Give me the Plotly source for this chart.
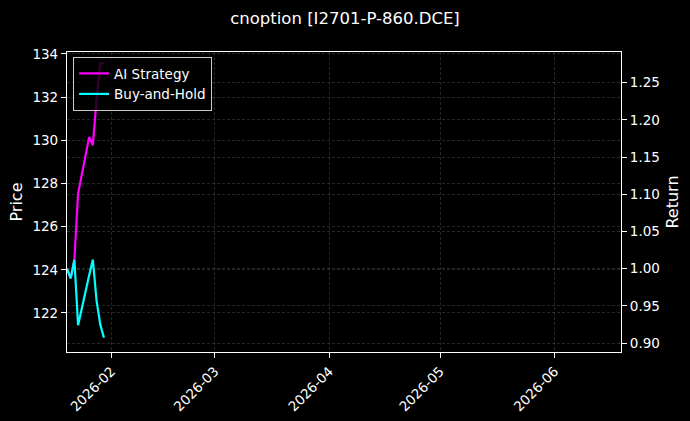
import plotly.graph_objects as go

# daily returns
dates = ["2026-01-20", "2026-01-21", "2026-01-22", "2026-01-23", "2026-01-26",
         "2026-01-27", "2026-01-28", "2026-01-29", "2026-01-30"]
ai_strategy = [1.000, 0.987, 1.012, 1.101, 1.177, 1.166, 1.227, 1.276, 1.276]
buy_and_hold = [1.000, 0.987, 1.012, 0.924, 0.991, 1.012, 0.957, 0.925, 0.907]

price_range = [120.19, 134.09]
return_range = [0.8879, 1.2913]
x_range = ["2026-01-20", "2026-06-19"]

FONT = "DejaVu Sans"
grid = dict(showgrid=True, gridcolor="rgba(110,110,110,0.35)", gridwidth=0.7, griddash="3px,2px")

fig = go.Figure()

# empty trace so the Price axis exists on the left
fig.add_trace(go.Scatter(x=[], y=[], yaxis="y", showlegend=False, hoverinfo="skip"))

fig.add_trace(go.Scatter(x=dates, y=ai_strategy, yaxis="y2", mode="lines",
                         name="AI Strategy", line=dict(color="#ff00ff", width=2.2)))
fig.add_trace(go.Scatter(x=dates, y=buy_and_hold, yaxis="y2", mode="lines",
                         name="Buy-and-Hold", line=dict(color="#00ffff", width=2.2)))

fig.update_layout(
    width=690, height=421,
    margin=dict(l=67, r=69, t=52, b=69),
    paper_bgcolor="#000000", plot_bgcolor="#000000",
    font=dict(family=FONT, size=13.5, color="#ffffff"),
    title=dict(text="cnoption [I2701-P-860.DCE]", x=0.5, xanchor="center",
               yref="container", y=0.957, yanchor="middle",
               font=dict(size=16.5, color="#ffffff")),
    xaxis=dict(type="date", range=x_range, dtick="M1", tick0="2026-02-01",
               tickformat="%Y-%m", tickangle=-45, ticks="outside", ticklen=5,
               tickcolor="#ffffff", showline=True, linecolor="#ffffff", linewidth=1.2,
               mirror=True, zeroline=False, automargin=False, **grid),
    yaxis=dict(title=dict(text="Price", standoff=5), range=price_range, dtick=2,
               ticks="outside", ticklen=5, tickcolor="#ffffff", showline=True,
               linecolor="#ffffff", linewidth=1.2, zeroline=False, automargin=False, **grid),
    yaxis2=dict(title=dict(text="Return", standoff=7), range=return_range, dtick=0.05,
                tickformat=".2f", overlaying="y", side="right", ticks="outside",
                ticklen=5, tickcolor="#ffffff", showline=True, linecolor="#ffffff",
                linewidth=1.2, zeroline=False, automargin=False, **grid),
    legend=dict(x=0.011, y=0.983, xanchor="left", yanchor="top",
                bgcolor="rgba(0,0,0,0.8)", bordercolor="#cccccc", borderwidth=1,
                font=dict(size=13.5, color="#ffffff"), tracegroupgap=0, itemwidth=30),
)

# drop the default 8px page margin so the figure fills the window
fig.write_html("out.html", config={"displayModeBar": False},
               post_script="document.body.style.margin='0';document.body.style.background='#000';")
